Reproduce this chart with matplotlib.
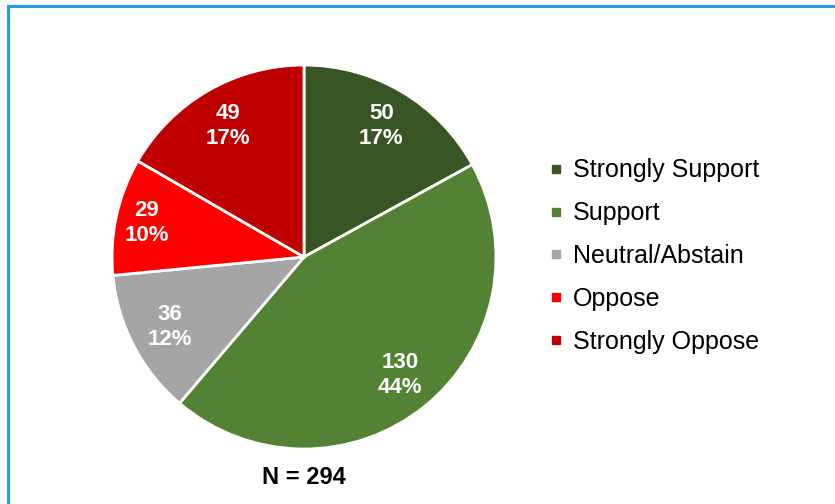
import matplotlib
matplotlib.use('Agg')
import matplotlib.pyplot as plt
import numpy as np
from matplotlib.lines import Line2D
from matplotlib.patches import Rectangle

plt.rcParams['font.family'] = ['Liberation Sans', 'DejaVu Sans']

categories = ['Strongly Support', 'Support', 'Neutral/Abstain', 'Oppose', 'Strongly Oppose']
counts = [50, 130, 36, 29, 49]
colors = ['#375623', '#548235', '#a5a5a5', '#ff0000', '#c00000']
# radial position of each slice label (fraction of radius)
label_dist = [0.79, 0.79, 0.79, 0.84, 0.79]

W, H = 835, 504
fig = plt.figure(figsize=(W / 100, H / 100), dpi=100)

# pie centred at (304, 257) px with radius 192 px
cx, cy, r = 304, 257, 192
ax = fig.add_axes([(cx - r) / W, (H - cy - r) / H, 2 * r / W, 2 * r / H])
wedges, _ = ax.pie(counts, colors=colors, startangle=90, counterclock=False,
                   radius=1, wedgeprops=dict(edgecolor='white', linewidth=2))
ax.set_xlim(-1, 1)
ax.set_ylim(-1, 1)
ax.set_aspect('equal')

total = sum(counts)
for w, n, d in zip(wedges, counts, label_dist):
    mid = np.deg2rad((w.theta1 + w.theta2) / 2)
    pct = round(100 * n / total)
    ax.text(d * np.cos(mid), d * np.sin(mid), f'{n}\n{pct}%', ha='center', va='center',
            color='white', fontsize=16, fontweight='bold', linespacing=1.25)

fig.text(cx / W, 1 - 478 / H, f'N = {total}', ha='center', va='center',
         fontsize=17, fontweight='bold', color='black')

handles = [Line2D([], [], marker='s', linestyle='', color=c, markersize=6) for c in colors]
fig.legend(handles, categories, loc='center left', bbox_to_anchor=(548 / W, 1 - 256 / H),
           frameon=False, fontsize=18, handlelength=0.6, handletextpad=0.4,
           labelspacing=0.75, borderaxespad=0, borderpad=0)

# blue outline running off the right and bottom edges
fig.patches.append(Rectangle((8 / W, -0.1), 1.2, 1 - 6 / H + 0.1, transform=fig.transFigure,
                             fill=False, edgecolor='#1fa2e3', linewidth=2.2, clip_on=False))

fig.savefig('out.png', dpi=100, facecolor='white')
